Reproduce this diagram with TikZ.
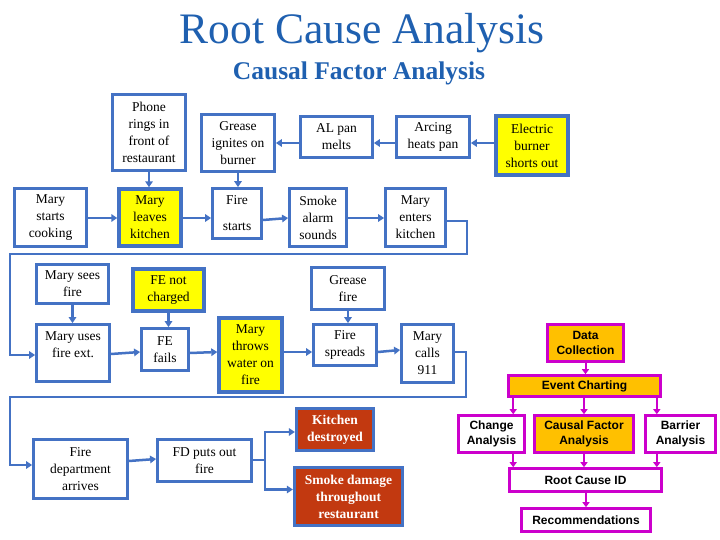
\documentclass[tikz,border=0pt]{standalone}
\usepackage{fontspec}
\setmainfont{Liberation Serif}
\newfontfamily\arialfont{Liberation Sans}
\usepackage{xcolor}
\usetikzlibrary{arrows.meta}
\definecolor{boxblue}{RGB}{68,114,196}
\definecolor{titleblue}{RGB}{31,96,176}
\definecolor{causeyellow}{RGB}{255,255,0}
\definecolor{lossred}{RGB}{194,57,16}
\definecolor{stepmag}{RGB}{204,0,204}
\definecolor{steporange}{RGB}{255,192,0}

\begin{document}
\begin{tikzpicture}[x=1pt,y=-1pt,
    box/.style={draw=boxblue, line width=2.8pt, fill=white, align=center, inner sep=1pt,
      font=\fontsize{13.5}{17}\selectfont},
    cause/.style={box, fill=causeyellow, line width=3.4pt},
    loss/.style={box, fill=lossred, text=white, line width=3.2pt,
      font=\fontsize{13.5}{17}\selectfont\bfseries},
    conn/.style={draw=boxblue, line width=2.5pt, -{Triangle[length=6pt,width=7.5pt]}},
    rca/.style={draw=stepmag, line width=2.6pt, fill=white, align=center, inner sep=1pt,
      font=\arialfont\fontsize{12}{15}\selectfont\bfseries},
    rcafill/.style={rca, fill=steporange},
    rcaarr/.style={draw=stepmag, line width=2pt, -{Triangle[length=5pt,width=7pt]}}]
\useasboundingbox[fill=white] (0,0) rectangle (720,540);

\node[anchor=base, text=titleblue, font=\fontsize{43.5}{48}\selectfont] (title) at (362,44)
  {Root Cause Analysis};
\node[anchor=base, text=titleblue, font=\fontsize{25.5}{30}\selectfont\bfseries] (subtitle) at (359,80)
  {Causal Factor Analysis};

\node[box, minimum width=73, minimum height=76] (phone) at (149,132.5) {Phone\\rings in\\front of\\restaurant};
\node[box, minimum width=73, minimum height=57] (grease) at (238,143) {Grease\\ignites on\\burner};
\node[box, minimum width=72, minimum height=41] (alpan) at (336.5,137) {AL pan\\melts};
\node[box, minimum width=73, minimum height=41] (arcing) at (433,137) {Arcing\\heats pan};
\node[cause, minimum width=72, minimum height=59] (burner) at (532,145.5) {Electric\\burner\\shorts out};

\node[box, minimum width=72, minimum height=58] (cooking) at (50.5,217.5) {Mary\\starts\\cooking};
\node[cause, minimum width=62, minimum height=57] (leaves) at (150,217.5) {Mary\\leaves\\kitchen};
\node[box, minimum width=49, minimum height=50] (firestart) at (237,213.5) {Fire\\[9pt]starts};
\node[box, minimum width=57, minimum height=58] (alarm) at (318,217.5) {Smoke\\alarm\\sounds};
\node[box, minimum width=60, minimum height=58] (enters) at (415.5,217.5) {Mary\\enters\\kitchen};

\node[box, minimum width=72, minimum height=39] (sees) at (72.5,284) {Mary sees\\fire};
\node[box, minimum width=73, minimum height=57] (uses) at (73,353) {Mary uses\\fire ext.\\~};
\node[cause, minimum width=71, minimum height=42] (notcharged) at (168.5,290) {FE not\\charged};
\node[box, minimum width=47, minimum height=42] (fails) at (165,349.5) {FE\\fails};
\node[cause, minimum width=63, minimum height=74] (throws) at (250.5,355) {Mary\\throws\\water on\\fire};
\node[box, minimum width=73, minimum height=42] (greasefire) at (348,288.5) {Grease\\fire};
\node[box, minimum width=63, minimum height=41] (spreads) at (345,345) {Fire\\spreads};
\node[box, minimum width=52, minimum height=58] (calls) at (427.5,353.5) {Mary\\calls\\911};

\node[box, minimum width=94, minimum height=59] (arrives) at (80.5,469) {Fire\\department\\arrives};
\node[box, minimum width=94, minimum height=42] (putsout) at (204.5,460.5) {FD puts out\\fire};
\node[loss, minimum width=77, minimum height=42] (destroyed) at (335,429.5) {Kitchen\\destroyed};
\node[loss, minimum width=108, minimum height=58] (damage) at (348.5,496.5) {Smoke damage\\throughout\\restaurant};

\coordinate (rowA) at (0,143);
\coordinate (rowB) at (0,218);
\coordinate (rowC) at (0,352);
\coordinate (rowD) at (0,460);
\coordinate (wrapAr) at (467,254);
\coordinate (wrapAl) at (10,254);
\coordinate (wrapBr) at (466,397);
\coordinate (wrapBl) at (10,397);
\coordinate (split) at (265,460);

\draw[conn] (burner.west |- rowA) -- (arcing.east |- rowA);
\draw[conn] (arcing.west |- rowA) -- (alpan.east |- rowA);
\draw[conn] (alpan.west |- rowA) -- (grease.east |- rowA);
\draw[conn] (phone.south) -- (phone.south |- leaves.north);
\draw[conn] (grease.south) -- (grease.south |- firestart.north);
\draw[conn] (cooking.east |- rowB) -- (leaves.west |- rowB);
\draw[conn] (leaves.east |- rowB) -- (firestart.west |- rowB);
\draw[conn] ([yshift=-2pt]firestart.east |- rowB) -- (alarm.west |- rowB);
\draw[conn] (alarm.east |- rowB) -- (enters.west |- rowB);
\draw[conn] ([yshift=-3.5pt]enters.east) -| (wrapAr) -- (wrapAl) |- ([yshift=-2pt]uses.west);

\draw[conn] (sees.south) -- (sees.south |- uses.north);
\draw[conn] (notcharged.south) -- (notcharged.south |- fails.north);
\draw[conn] (greasefire.south) -- (greasefire.south |- spreads.north);
\draw[conn] ([yshift=-2pt]uses.east |- rowC) -- (fails.west |- rowC);
\draw[conn] ([yshift=-1pt]fails.east |- rowC) -- (throws.west |- rowC);
\draw[conn] (throws.east |- rowC) -- (spreads.west |- rowC);
\draw[conn] (spreads.east |- rowC) -- ([yshift=2pt]calls.west |- rowC);
\draw[conn] (calls.east |- rowC) -| (wrapBr) -- (wrapBl) |- ([yshift=4pt]arrives.west);

\draw[conn] ([yshift=-1pt]arrives.east |- rowD) -- ([yshift=1pt]putsout.west |- rowD);
\draw[line width=2.5pt, draw=boxblue] (putsout.east |- split) -- (split);
\draw[conn] (split) |- ([yshift=-2.5pt]destroyed.west);
\draw[conn] (split) |- ([yshift=7pt]damage.west);

\node[rcafill, minimum width=76, minimum height=37] (datacol) at (585.5,343) {Data\\Collection};
\node[rcafill, minimum width=152, minimum height=21] (evchart) at (584.5,386) {Event Charting};
\node[rca, minimum width=66, minimum height=37] (change) at (491.5,434) {Change\\Analysis};
\node[rcafill, minimum width=99, minimum height=37] (causal) at (584,434) {Causal Factor\\Analysis};
\node[rca, minimum width=70, minimum height=37] (barrier) at (680.5,434) {Barrier\\Analysis};
\node[rca, minimum width=152, minimum height=23] (rootid) at (585.5,480) {Root Cause ID};
\node[rca, minimum width=129, minimum height=23] (recs) at (586,520) {Recommendations};

\draw[rcaarr] (datacol.south) -- (datacol.south |- evchart.north);
\draw[rcaarr] ([xshift=6pt]evchart.south west) -- ([xshift=6pt]evchart.south west |- change.north);
\draw[rcaarr] (causal.north |- evchart.south) -- (causal.north);
\draw[rcaarr] ([xshift=-5pt]evchart.south east) -- ([xshift=-5pt]evchart.south east |- barrier.north);
\draw[rcaarr] ([xshift=5pt]rootid.north west |- change.south) -- ([xshift=5pt]rootid.north west);
\draw[rcaarr] (causal.south) -- (causal.south |- rootid.north);
\draw[rcaarr] ([xshift=-6pt]rootid.north east |- barrier.south) -- ([xshift=-6pt]rootid.north east);
\draw[rcaarr] (recs.north |- rootid.south) -- (recs.north);
\end{tikzpicture}
\end{document}
